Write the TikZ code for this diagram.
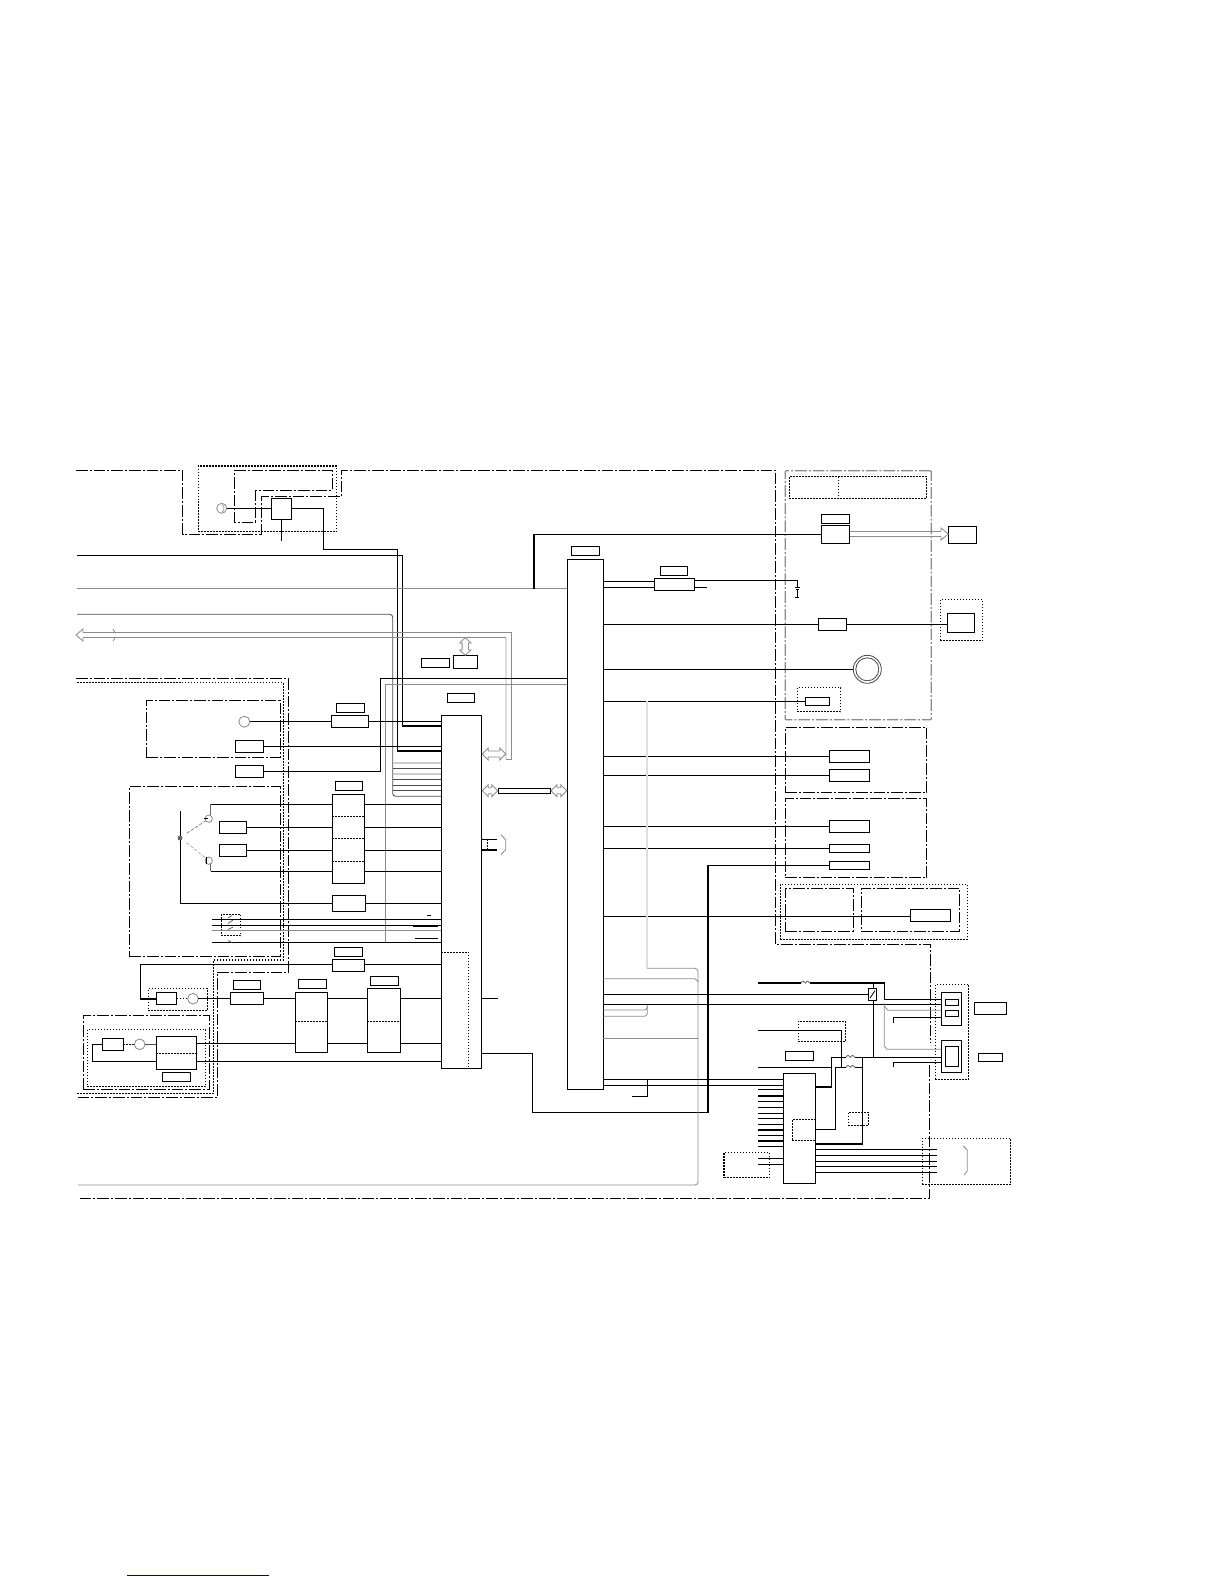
\documentclass[tikz,border=0pt]{standalone}
\begin{document}
\begin{tikzpicture}[x=0.6pt,y=-0.6pt,
  boxn/.style={draw=black,line width=0.7pt,inner sep=0pt,outer sep=0pt,rectangle},
  dotbox/.style={draw=black,line width=0.7pt,dash pattern=on 0.9pt off 0.9pt,inner sep=0pt,outer sep=0pt,rectangle},
  dashbox/.style={draw=black,line width=0.6pt,dash pattern=on 7pt off 1.2pt on 1.2pt off 1.2pt,inner sep=0pt,outer sep=0pt,rectangle},
  ring/.style={circle,draw=black!45,line width=0.5pt,inner sep=0pt,outer sep=0pt},
  wire/.style={draw=black,line width=0.75pt},
  graywire/.style={draw=black!45,line width=0.5pt},
  darkwire/.style={draw=black!70,line width=0.5pt},
  lightwire/.style={draw=black!13,line width=1.1pt},
  dotwire/.style={draw=black,line width=0.7pt,dash pattern=on 0.9pt off 0.9pt},
  dashframe/.style={draw=black,line width=0.6pt,dash pattern=on 7pt off 1.2pt on 1.2pt off 1.2pt},
  dotframe/.style={draw=black,line width=0.7pt,dash pattern=on 0.9pt off 0.9pt},
  outline/.style={draw=black!45,line width=0.5pt,fill=white}]
\newcommand\bx[6][boxn]{\pgfmathsetmacro\myw{abs(#5-#3)*0.6}\pgfmathsetmacro\myh{abs(#6-#4)*0.6}\node[#1,minimum width=\myw pt,minimum height=\myh pt] (#2) at ({(#3+#5)/2},{(#4+#6)/2}) {};}
\newcommand\link[4][wire]{\draw[#1] (#2.east |- 0,#4) -- (#3.west |- 0,#4);}
\newcommand\hstub[4][wire]{\draw[#1] (#2,#4) -- (#3.west |- 0,#4);}
\newcommand\rstub[4][wire]{\draw[#1] (#2.east |- 0,#4) -- (#3,#4);}
\newcommand\dblarrow[3]{\draw[outline] (#1,#3) -- (#1+6,#3-6) -- (#1+6,#3-3) -- (#2-6,#3-3) -- (#2-6,#3-6) -- (#2,#3) -- (#2-6,#3+6) -- (#2-6,#3+3) -- (#1+6,#3+3) -- (#1+6,#3+6) -- cycle;}
\newcommand\squig[2]{\draw[white,line width=1.2pt] (#1,#2) -- (#1+9,#2);
  \draw[black!60,line width=0.5pt] (#1,#2) .. controls (#1+1.5,#2-3) and (#1+3,#2-2) .. (#1+4.5,#2) .. controls (#1+6,#2-3) and (#1+7.5,#2-2) .. (#1+9,#2);}
\useasboundingbox (0,0) rectangle (1224,1584);
% --- outer frames
\draw[dashframe] (76,470) -- (182.5,470) -- (182.5,534) -- (261.3,534) -- (261.3,496.7) -- (341.3,496.7) -- (341.3,470) -- (775.5,470) -- (775.5,944) -- (930.3,944) -- (930.3,1043);
\draw[dashframe] (929.7,1065) -- (929.7,1198.3) -- (78,1198.3);
\draw[dashframe] (234,470) -- (332.3,470) -- (332.3,490.3) -- (255.3,490.3) -- (255.3,522.3) -- (234,522.3) -- cycle;
\draw[dashframe] (76,678.3) -- (288.3,678.3) -- (288.3,972.3) -- (217.7,972.3) -- (217.7,1097.3) -- (77,1097.3);
\draw[dotframe] (77,682.3) -- (283.3,682.3) -- (283.3,960) -- (213.7,960) -- (213.7,1093.3) -- (77,1093.3);
\bx[dotbox]{topdot}{198.3}{466}{336.7}{531.7}
\bx[dashbox]{frameA}{146.3}{700.3}{280}{757.3}
\bx[dashbox]{frameB}{129.3}{786.7}{280}{956.7}
\bx[dashbox]{frameC}{83.3}{1015.7}{209.3}{1089.7}
\bx[dotbox]{frameD}{87.3}{1029.7}{205.7}{1086.7}
\bx[dotbox]{frameE}{148.3}{988.7}{207.3}{1010.7}
\bx[dotbox]{swdot}{221.3}{914.3}{240.7}{935.7}
\node[rectangle,rounded corners=0.5pt,draw=black!45,line width=0.8pt,dash pattern=on 7pt off 1.2pt on 1.2pt off 1.2pt,inner sep=0pt,minimum width=87.6pt,minimum height=149.4pt] (frameR) at (858.3,595.3) {};
\bx[dotbox]{hdr}{789.3}{476.7}{926.7}{498.3}
\bx[dotbox]{dispdot}{940.3}{599.7}{982.7}{640.7}
\bx[dotbox]{smalldot}{797.3}{687.7}{840.7}{711.7}
\bx[dashbox]{frameF}{785.3}{727.3}{926.7}{792.3}
\bx[dashbox]{frameG}{785.3}{798.3}{926.7}{877.3}
\bx[dotbox]{frameH}{780.3}{884.3}{967.3}{939.3}
\bx[dashbox]{frameI}{785.3}{888.3}{853.3}{931}
\bx[dashbox]{frameJ}{861.3}{888.3}{959.7}{931}
\bx[dotbox]{conndot}{935.3}{984.3}{968.7}{1079.3}
\bx[dotbox]{dotK}{798.3}{1021.3}{845.3}{1041.7}
\bx[dotbox]{dotL}{848.3}{1112.3}{868.3}{1125.7}
\bx[dotbox]{dotM}{724}{1152.3}{769.3}{1177.7}
\bx[dotbox]{dotN}{922.3}{1138.3}{1010.7}{1184.3}
\draw[dotframe] (838.7,476.7) -- (838.7,498.3);
% --- boxes
\bx{mcu}{271.3}{498.3}{291.7}{519.3}
\node[ring,minimum size=6pt] (mic) at (221.7,508.3) {};
\bx{a1}{331.3}{715.3}{368.3}{727.3}
\bx{a1l}{336.3}{703.3}{364.7}{712.3}
\node[ring,minimum size=6.6pt] (c1) at (244.3,721.7) {};
\bx{a2}{235.3}{740.3}{263.3}{752.3}
\bx{a3}{235.3}{765.3}{263.3}{777.3}
\bx{chipA}{332.3}{794.3}{364.7}{883.3}
\bx{chipAl}{335.3}{781.3}{362.7}{790.7}
\bx{b1}{219.3}{821.3}{246.7}{833.3}
\bx{b2}{219.3}{844.3}{246.7}{856.3}
\bx{b3}{332.3}{895.3}{365.7}{911.3}
\bx{d1l}{334.3}{947.3}{362.7}{956.7}
\bx{d1}{332.3}{959.3}{364.7}{971.3}
\bx{e1}{156.3}{992.3}{176.7}{1004.7}
\node[ring,minimum size=6.4pt] (c2) at (193,998.7) {};
\bx{e2}{230.3}{992.3}{263.7}{1004.7}
\bx{e2l}{233.3}{980.3}{260.7}{989.7}
\bx{chipE}{295.3}{992.3}{327.7}{1052.3}
\bx{chipEl}{298.3}{979.3}{326.7}{988.7}
\bx{chipF}{367.3}{988.3}{400.7}{1052.3}
\bx{chipFl}{370.3}{976.3}{398.7}{985.7}
\bx{f1}{102.3}{1038.3}{123.3}{1050.3}
\node[ring,minimum size=6.4pt] (c3) at (139.7,1044.3) {};
\bx{f2}{156.3}{1036.3}{196.7}{1069.3}
\bx{f2l}{162.3}{1072.3}{190.7}{1081.3}
\bx{left}{441.3}{715.3}{481.3}{1068.3}
\bx{leftl}{447.3}{693.3}{474.7}{702.7}
\bx{main}{567.3}{559.3}{603.3}{1089.3}
\bx{mainl}{571.3}{546.3}{599.3}{555.3}
\bx{g1}{453.3}{655.3}{477.7}{668.3}
\bx{g1l}{421.3}{658.3}{449.7}{667.3}
\bx[boxn,line width=0.8pt]{busbox}{498.3}{788.3}{550.7}{793.3}
\bx{h1}{654.3}{578.3}{694.7}{590.3}
\bx{h1l}{660.3}{566.3}{687.7}{575.3}
\bx{i1}{821.3}{525.3}{849.7}{543.3}
\bx{i1l}{821.3}{514.3}{849.7}{523.7}
\bx{i2}{948.3}{526.3}{976.7}{543.3}
\bx{j1}{818.3}{618.3}{846.7}{630.3}
\bx{j2}{947.3}{613.3}{974.7}{632.3}
\node[circle,draw=black!70,line width=0.5pt,inner sep=0pt,outer sep=0pt,minimum size=16.8pt] (ring1) at (867.3,669.3) {};
\node[circle,draw=black!70,line width=0.5pt,inner sep=0pt,outer sep=0pt,minimum size=13.8pt] (ring2) at (867.3,669.3) {};
\bx{k1}{805.3}{697.3}{829.7}{705.7}
\bx{m1}{829.3}{750.3}{869.3}{762.3}
\bx{m2}{829.3}{769.3}{869.3}{781.3}
\bx{m3}{829.3}{820.3}{869.3}{832.3}
\bx{m4}{829.3}{844.3}{869.3}{852.3}
\bx{m5}{829.3}{861.3}{869.3}{869.3}
\bx{m6}{910.3}{909.3}{950.7}{921.3}
\bx{sw}{868.3}{988.3}{876.7}{1000.3}
\bx{conn1}{941.3}{992.3}{961.7}{1025.3}
\bx{conn1a}{945.3}{999.3}{958.7}{1005.3}
\bx{conn1b}{945.3}{1010.3}{958.7}{1016.7}
\bx{conn2}{941.3}{1040.3}{961.7}{1072.3}
\bx{conn2a}{945.3}{1046.3}{958.7}{1066.3}
\bx{n1}{974.3}{1002.3}{1006.7}{1014.3}
\bx{n2}{978.3}{1053.3}{1002.3}{1061.3}
\bx{n3}{785.3}{1051.3}{813.3}{1060.3}
\bx{chipN}{783.3}{1073.3}{815.7}{1183.3}
\bx[dotbox]{chipNd}{792.3}{1119.3}{815.7}{1140.7}
% --- dotted dividers
\foreach \yy in {816.3,838.3,861.3}{\draw[dotwire] (chipA.west |- 0,\yy) -- (chipA.east |- 0,\yy);}
\draw[dotwire] (chipE.west |- 0,1021.3) -- (chipE.east |- 0,1021.3);
\draw[dotwire] (chipF.west |- 0,1021.3) -- (chipF.east |- 0,1021.3);
\draw[dotwire] (f2.west |- 0,1053.7) -- (f2.east |- 0,1053.7);
\draw[dotwire] (left.west |- 0,952.3) -- (468.7,952.3) -- (468.7,1068.3);
\draw[dotwire] (e1.east |- 0,998.7) -- (c2.west);
\draw[dotwire] (f1.east |- 0,1044.3) -- (c3.west);
% --- top unit
\draw[wire] (mic.east) -- (mcu.west |- mic.east);
\draw[black!45,line width=0.4pt] (222,504.5) arc (-60:60:4.4);
\draw[wire] (mcu.east |- 0,508.3) -- (323.3,508.3) -- (323.3,549.3) -- (397.3,549.3) -- (397.3,751) -- (left.west |- 0,751);
\draw[wire] (mcu.south) -- (281.5,540.7);
\draw[wire] (77,555.3) -- (402.7,555.3) -- (402.7,726) -- (left.west |- 0,726);
\draw[graywire] (77,588.5) -- (main.west |- 0,588.5);
\draw[wire] (534,588.5) -- (534,534.3) -- (i1.west |- 0,534.3);
\draw[darkwire,rounded corners=1.8pt] (77,614.3) -- (392.7,614.3) -- (392.7,796.3) -- (left.west |- 0,796.3);
\foreach \yy in {768.3,779.3,785,790.7}{\draw[darkwire] (392.7,\yy) -- (left.west |- 0,\yy);}
\foreach \yy in {762.7,773.7}{\draw[lightwire,draw=black!20] (392.7,\yy) -- (left.west |- 0,\yy);}
% --- gray bus
\draw[graywire] (83,632.5) -- (511.7,632.5) -- (511.7,759.3) -- (505.7,759.3);
\draw[graywire] (83,637.5) -- (505.7,637.5);
\draw[lightwire] (505.7,637.5) -- (505.7,759.3);
\draw[draw=black!45,line width=0.5pt] (83,632.5) -- (83,629) -- (76,635) -- (83,641) -- (83,637.5);
\draw[draw=black!45,line width=0.5pt] (113,629) -- (115.5,633) (115.5,637) -- (113,641);
\dblarrow{482.3}{505.7}{754}
\dblarrow{482.3}{497.7}{790.7}
\dblarrow{551}{566.7}{790.7}
\draw[outline] (465.3,637.7) -- (471,643) -- (468.5,643) -- (468.5,650) -- (471,650) -- (465.3,655.3) -- (459.6,650) -- (462.1,650) -- (462.1,643) -- (459.6,643) -- cycle;
% --- connections to left chip
\draw[wire] (main.west |- 0,678.3) -- (380.7,678.3) -- (380.7,771.3) -- (a3.east |- 0,771.3);
\draw[graywire] (main.west |- 0,684.3) -- (385.7,684.3) -- (385.7,943.3);
\link{c1}{a1}{721.7}
\link{a1}{left}{721.7}
\link{a2}{left}{746.3}
% --- box B
\draw[wire] (180.3,810.7) -- (180.3,903.3) -- (b3.west |- 0,903.3);
\link{b3}{left}{903.3}
\fill[black!60] (180,838) circle (1.5pt);
\node[ring,minimum size=4.4pt] (q1) at (208.7,818.7) {};
\node[ring,minimum size=4.4pt] (q2) at (208.7,860.7) {};
\draw[black!55,line width=0.4pt,dash pattern=on 2pt off 1pt] (186.7,833.3) -- (q1);
\draw[black!35,line width=0.4pt,dash pattern=on 2pt off 1pt] (186.7,842.7) -- (q2);
\draw[black,line width=0.5pt] (204,818.7) -- (208,818.7);
\draw[black,line width=0.5pt] (206,857) -- (206,864);
\draw[wire,draw=black!60] (210.7,804.3) -- (q1.north -| 210.7,0);
\draw[wire] (210.7,804.3) -- (chipA.west |- 0,804.3);
\draw[wire,draw=black!60] (210.7,871.3) -- (q2.south -| 210.7,0);
\draw[wire] (210.7,871.3) -- (chipA.west |- 0,871.3);
\link{b1}{chipA}{827.3}
\link{b2}{chipA}{850.3}
\foreach \yy in {804.3,827.3,850.3,871.5}{\link{chipA}{left}{\yy}}
\hstub{212}{left}{919.3}
\hstub{212}{left}{925.5}
\hstub[graywire,line width=0.8pt]{212}{left}{930.7}
\hstub{212}{left}{942.3}
\draw[black!70,line width=0.4pt] (228,918) -- (232,915.5) (228,923.5) -- (233,920) (228,929.5) -- (233,927) (228,940.5) -- (233,943);
\draw[black,line width=0.5pt] (427,915.7) -- (431,915.7);
\draw[black,line width=1pt] (412.7,926) -- (437.7,926);
\draw[black,line width=0.5pt] (415,938.3) -- (437.7,938.3);
% --- lower left
\draw[wire] (d1.west |- 0,964.3) -- (140.7,964.3) -- (140.7,999) -- (e1.west |- 0,999);
\link{d1}{left}{964.3}
\draw[wire] (c2.east) -- (e2.west |- c2.east);
\link{e2}{chipE}{998.7}
\link{chipE}{chipF}{998.5}
\link{chipF}{left}{998.5}
\draw[wire] (f1.west |- 0,1044.3) -- (92.3,1044.3) -- (92.3,1061.3) -- (f2.west |- 0,1061.3);
\draw[darkwire] (c3.east) -- (f2.west |- c3.east);
\link{f2}{chipE}{1043.7}
\link{chipE}{chipF}{1043.5}
\link{chipF}{left}{1043.5}
\link{f2}{left}{1061.3}
% --- left chip right side
\rstub{left}{497.3}{839.3}
\rstub{left}{497.3}{850}
\draw[dotwire] (487.3,839.3) -- (487.3,850);
\draw[graywire,line width=0.5pt] (501,834.7) -- (505.7,840) -- (505.7,849.5) -- (501,854.7);
\rstub{left}{497.7}{998.3}
\draw[wire] (left.east |- 0,1053.3) -- (532.3,1053.3) -- (532.3,1112.3) -- (708,1112.3) -- (708,865.3) -- (m5.west |- 0,865.3);
% --- main chip right side
\link{main}{h1}{581.7}
\link{main}{h1}{587.3}
\draw[wire] (h1.east |- 0,580.3) -- (797.3,580.3) -- (797.3,587.3);
\rstub{h1}{706.7}{587.3}
\draw[black,line width=0.6pt] (794.9,587.3) -- (799.7,587.3) (795.5,589.3) -- (799,589.3) (797.3,589.3) -- (797.3,597) (795.3,597) -- (799.3,597);
\link{main}{j1}{624.3}
\link{j1}{j2}{624.3}
\draw[wire] (main.east |- 0,669.3) -- (ring1.west);
\link{main}{k1}{701.3}
\link{main}{m1}{756.3}
\link{main}{m2}{775.3}
\link{main}{m3}{826.3}
\link{main}{m4}{848.3}
\link{main}{m6}{916.3}
% --- big gray arrow
\draw[draw=black!45,line width=0.7pt] (i1.east |- 0,531.3) -- (941,531.3) (i1.east |- 0,536.3) -- (941,536.3);
\draw[draw=black!45,line width=0.5pt] (941,531.3) -- (941,528) -- (948.3,534) -- (941,540) -- (941,536.3);
% --- gray returns
\draw[lightwire] (647,701.3) -- (647,968.3);
\draw[graywire,rounded corners=1.8pt] (647,968.3) -- (698,968.3) -- (698,1185) -- (78,1185);
\draw[graywire,rounded corners=1.8pt] (main.east |- 0,978.7) -- (696.7,978.7) -- (698,982);
\draw[graywire] (main.east |- 0,1038.3) -- (698,1038.3);
\draw[graywire,rounded corners=1.8pt] (main.east |- 0,1010) -- (647.3,1010) -- (647.3,1004.3);
\draw[graywire,rounded corners=1.8pt] (main.east |- 0,1016.3) -- (647.3,1016.3) -- (647.3,1006);
% --- connector wiring
\link{main}{sw}{994.3}
\link{main}{conn1}{1004.3}
\link{main}{chipN}{1079.3}
\link{main}{chipN}{1085.5}
\draw[wire,line width=0.6pt] (647.3,1079.3) -- (647.3,1096) -- (632,1096);
\draw[black,line width=0.5pt] (870,998) -- (875,990.5);
\draw[wire] (758.3,983) -- (884.3,983) -- (884.3,999.3) -- (conn1.west |- 0,999.3);
\draw[wire] (873.3,983) -- (sw.north -| 873.3,0);
\draw[wire] (sw.south -| 873.3,0) -- (873.3,1057.3);
\squig{801}{983}
\draw[graywire] (884.3,1003) -- (884.3,1046) -- (887,1049.3) -- (conn2.west |- 0,1049.3);
\draw[graywire] (884.3,1006) -- (888,1010.3) -- (conn1.west |- 0,1010.3);
\draw[wire] (893.3,1022.7) -- (893.3,1017.7) -- (conn1.west |- 0,1017.7);
\draw[wire] (chipN.east |- 0,1087) -- (831.7,1087) -- (831.7,1057.3) -- (conn2.west |- 0,1057.3);
\draw[wire] (893.3,1067) -- (893.3,1062.3) -- (conn2.west |- 0,1062.3);
\draw[wire] (758.3,1067.3) -- (831.7,1067.3);
\draw[wire] (chipN.east |- 0,1129.3) -- (835.7,1129.3) -- (835.7,1067.3) -- (862.3,1067.3);
\draw[wire] (chipN.east |- 0,1144) -- (862.3,1144) -- (862.3,1057.3);
\draw[wire] (758.3,1030.3) -- (841.3,1030.3) -- (841.3,1067.3);
\squig{846}{1057.3}
\squig{846}{1067.3}
\foreach \yy in {1089.3,1096,1101.7,1107.3,1113.3,1118.7,1124.3,1130,1135.3,1141,1146.3,1158.3,1164.3}{\hstub{758.3}{chipN}{\yy}}
\foreach \yy in {1149.3,1155.3,1161.3,1166.7,1172.3}{\rstub{chipN}{936.7}{\yy}}
\draw[graywire] (963.3,1146) -- (967.3,1150) -- (967.3,1171) -- (964,1175);
% --- underline link
\draw[draw={rgb,255:red,0;green,0;blue,160},line width=0.6pt] (127,1575) -- (269,1575);
\end{tikzpicture}
\end{document}
